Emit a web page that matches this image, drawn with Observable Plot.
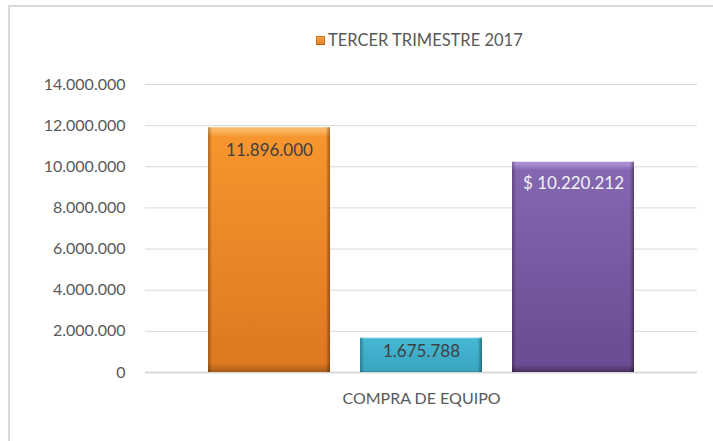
<!DOCTYPE html>
<html>
<head>
<meta charset="utf-8">
<script src="https://cdn.jsdelivr.net/npm/d3@7"></script>
<script src="https://cdn.jsdelivr.net/npm/@observablehq/plot@0.6"></script>
<style>
  html, body { margin: 0; padding: 0; background: #fff; overflow: hidden; }
  #wrap { position: relative; width: 713px; height: 441px; overflow: hidden; font-family: Lato, "Noto Sans", sans-serif; }
  #frame { position: absolute; left: 8px; top: 5px; width: 730px; height: 460px; border: 2px solid #d9d9d9; box-sizing: border-box; }
  #legend { position: absolute; left: 316px; top: 30px; display: flex; align-items: center; font-size: 16.5px; color: #595959; white-space: nowrap; }
  #legend .sw { width: 9px; height: 9px; margin-right: 3px; background: linear-gradient(#f9a64a, #e2801f); box-shadow: inset 0 0 0 1px rgba(150,80,20,0.5); }
  #chart { position: absolute; left: 0; top: 0; }
</style>
</head>
<body>
<div id="wrap">
  <div id="frame"></div>
  <div id="chart"></div>
  <div id="legend"></div>
</div>
<script>
// ---- data ----
const seriesName = ["TERCER TRIMESTRE 2017"];
const categories = ["COMPRA DE EQUIPO"];
const pointKeys = ["p1", "p2", "p3"];
const values = [11896000, 1675788, 10220212];
const valueLabels = ["11.896.000", "1.675.788", "$ 10.220.212"];
const yTicks = [0, 2000000, 4000000, 6000000, 8000000, 10000000, 12000000, 14000000];
const yTickLabels = ["0", "2.000.000", "4.000.000", "6.000.000", "8.000.000", "10.000.000", "12.000.000", "14.000.000"];

// ---- styles (not data) ----
const palettes = [
  { edge: "#fbb865", top: "#f7952e", bottom: "#e07a22", dark: "#a85a17" },
  { edge: "#8fdaeb", top: "#45b7d3", bottom: "#3aa6c2", dark: "#23778e" },
  { edge: "#a98ed2", top: "#8467b1", bottom: "#6b4d93", dark: "#47305f" }
];
const labelColors = ["#404040", "#404040", "#f2f2f2"];
const labelOffsets = [23, 14, 21];

const data = values.map((v, i) => ({
  category: categories[0], key: pointKeys[i], value: v, label: valueLabels[i], i
}));

const common = {
  fx: "category", x: "key", y: "value"
};

const plot = Plot.plot({
  width: 713,
  height: 441,
  marginLeft: 145,
  marginRight: 16,
  marginTop: 84,
  marginBottom: 69,
  style: { fontFamily: "Lato, 'Noto Sans', sans-serif", fontSize: "16px", color: "#595959", background: "transparent", overflow: "visible" },
  fx: { domain: categories, padding: 0, label: null, axis: null },
  x: { domain: pointKeys, paddingInner: 0.196, paddingOuter: 0.402, axis: null },
  y: { domain: [0, 14000000], label: null, axis: null },
  color: { type: "identity" },
  marks: [
    Plot.gridY(yTicks.slice(1), { stroke: "#d9d9d9", strokeOpacity: 1, strokeWidth: 1 }),
    Plot.ruleY([0], { stroke: "#d9d9d9", strokeWidth: 2 }),
    Plot.barY(data, { ...common, fill: d => `url(#gv${d.i})` }),
    Plot.barY(data, { ...common, fill: "url(#gh)" }),
    Plot.barY(data, { ...common, fill: "url(#gb)" }),
    ...data.map((d, i) => Plot.text([d], {
      ...common, text: "label", fill: labelColors[i], dy: labelOffsets[i], fontSize: 17
    })),
    Plot.axisY(yTicks, {
      tickSize: 0, tickPadding: 20, label: null,
      tickFormat: (t) => yTickLabels[yTicks.indexOf(t)], fill: "#595959", fontSize: 16
    }),
    Plot.axisFx(categories, {
      anchor: "bottom", tickSize: 0, tickPadding: 20, label: null, fill: "#595959", fontSize: 16
    })
  ]
});

// gradient definitions for the bevelled bars
const svg = d3.select(plot);
const defs = svg.insert("defs", ":first-child");
palettes.forEach((p, i) => {
  const g = defs.append("linearGradient").attr("id", `gv${i}`).attr("x1", 0).attr("y1", 0).attr("x2", 0).attr("y2", 1);
  [[0, p.edge], [0.012, p.edge], [0.04, p.top], [0.9, p.bottom], [0.965, p.bottom], [1, p.dark]]
    .forEach(([o, c]) => g.append("stop").attr("offset", o).attr("stop-color", c));
});
const gh = defs.append("linearGradient").attr("id", "gh").attr("x1", 0).attr("y1", 0).attr("x2", 1).attr("y2", 0);
[[0, "#000", 0.28], [0.035, "#000", 0.0], [0.965, "#000", 0.0], [1, "#000", 0.38]]
  .forEach(([o, c, a]) => gh.append("stop").attr("offset", o).attr("stop-color", c).attr("stop-opacity", a));
const gb = defs.append("linearGradient").attr("id", "gb").attr("x1", 0).attr("y1", 0).attr("x2", 0).attr("y2", 1);
[[0, "#fff", 0.0], [1, "#fff", 0.0]]
  .forEach(([o, c, a]) => gb.append("stop").attr("offset", o).attr("stop-color", c).attr("stop-opacity", a));

document.getElementById("chart").appendChild(plot);

const legend = document.getElementById("legend");
seriesName.forEach(name => {
  const sw = document.createElement("span"); sw.className = "sw";
  const tx = document.createElement("span"); tx.textContent = name;
  legend.appendChild(sw); legend.appendChild(tx);
});
</script>
</body>
</html>
